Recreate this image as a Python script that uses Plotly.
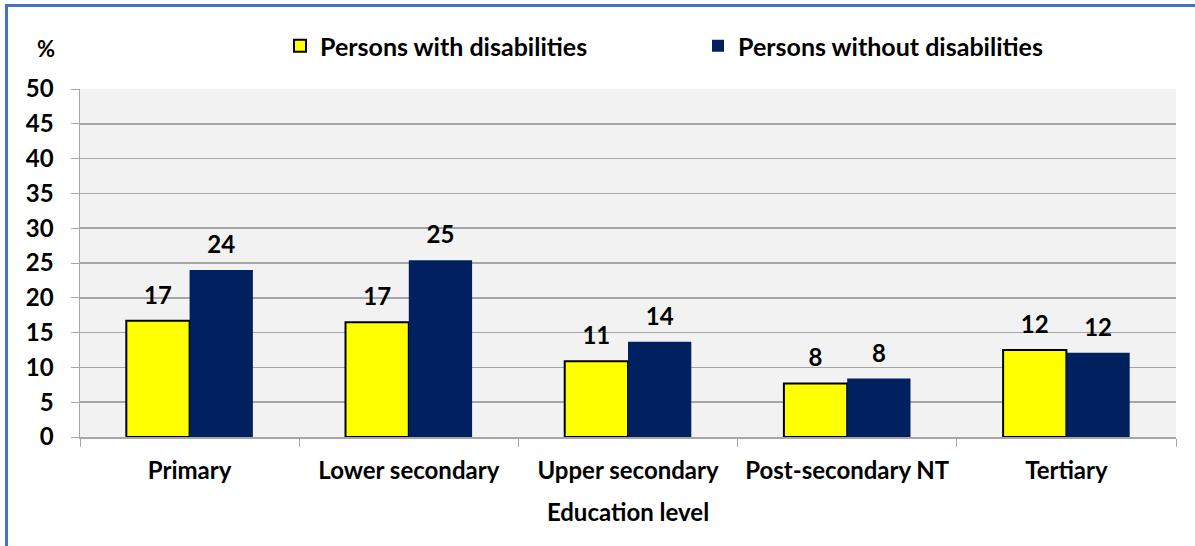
import plotly.graph_objects as go

categories = ["Primary", "Lower secondary", "Upper secondary", "Post-secondary NT", "Tertiary"]
with_dis = [16.7, 16.5, 10.9, 7.7, 12.5]
without_dis = [24.0, 25.4, 13.7, 8.4, 12.1]
with_labels = ["17", "17", "11", "8", "12"]
without_labels = ["24", "25", "14", "8", "12"]
y_ticks = [0, 5, 10, 15, 20, 25, 30, 35, 40, 45, 50]

FONT = "Lato"
YELLOW = "#FFFF00"
NAVY = "#002060"
GRID = "#A6A6A6"

fig = go.Figure()
fig.add_trace(go.Bar(
    name="Persons with disabilities", x=categories, y=with_dis,
    marker=dict(color=YELLOW, line=dict(color="black", width=2)),
    offsetgroup="a", hoverinfo="skip",
))
fig.add_trace(go.Bar(
    name="Persons without disabilities", x=categories, y=without_dis,
    marker=dict(color=NAVY, line=dict(color=NAVY, width=0)),
    offsetgroup="b", hoverinfo="skip",
))
for vals, labs, grp in [(with_dis, with_labels, "a"), (without_dis, without_labels, "b")]:
    fig.add_trace(go.Scatter(
        x=categories, y=vals, text=labs, mode="markers+text",
        textposition="top center", offsetgroup=grp,
        marker=dict(size=16, opacity=0),
        textfont=dict(family=FONT, size=24, color="black", weight="bold"),
        showlegend=False, hoverinfo="skip", cliponaxis=False,
    ))

W, H = 1195, 546
ml, mr, mt, mb = 80, 19, 89, 109
pw, ph = W - ml - mr, H - mt - mb

def px_x(px):
    return (px - ml) / pw

def px_y(py):
    return (H - mb - py) / ph

fig.update_layout(
    width=W, height=H,
    margin=dict(l=ml, r=mr, t=mt, b=mb, pad=0),
    paper_bgcolor="white", plot_bgcolor="#F2F2F2",
    barmode="group", bargap=0.4225, bargroupgap=0,
    scattermode="group", scattergap=0.4225,
    font=dict(family=FONT, color="black"),
    showlegend=True,
    legend=dict(
        orientation="h", x=px_x(280), y=px_y(46), xanchor="left", yanchor="middle",
        font=dict(family=FONT, size=25, color="black", weight="bold"),
        entrywidth=373, bgcolor="rgba(0,0,0,0)",
    ),
    xaxis=dict(
        showline=True, linecolor=GRID, linewidth=1.5,
        ticks="outside", ticklen=8, tickcolor=GRID, tickson="boundaries",
        ticklabelstandoff=12,
        tickfont=dict(family=FONT, size=24, color="black", weight="bold"),
        title=dict(text="Education level", font=dict(family=FONT, size=24, weight="bold"), standoff=21),
        showgrid=False,
    ),
    yaxis=dict(
        range=[0, 50], tickvals=y_ticks, showline=True, linecolor=GRID, linewidth=1.5,
        ticks="outside", ticklen=8, tickcolor=GRID, ticklabelstandoff=12,
        tickfont=dict(family=FONT, size=24, color="black", weight="bold"),
        showgrid=True, gridcolor=GRID, gridwidth=1.5, zeroline=False,
    ),
    annotations=[dict(
        text="%", xref="paper", yref="paper", x=px_x(46), y=px_y(48),
        showarrow=False, xanchor="center", yanchor="middle",
        font=dict(family=FONT, size=22, color="black", weight="bold"),
    )],
    shapes=[
        dict(type="rect", xref="paper", yref="paper", x0=px_x(6.5), x1=px_x(1260),
             y0=px_y(600), y1=px_y(5.5), line=dict(color="#4472C4", width=3),
             fillcolor="rgba(0,0,0,0)", layer="above"),
    ],
)

fig.write_html(
    "out.html",
    config={"displayModeBar": False, "staticPlot": True},
    post_script="document.body.style.margin='0';document.body.style.overflow='hidden';",
)
